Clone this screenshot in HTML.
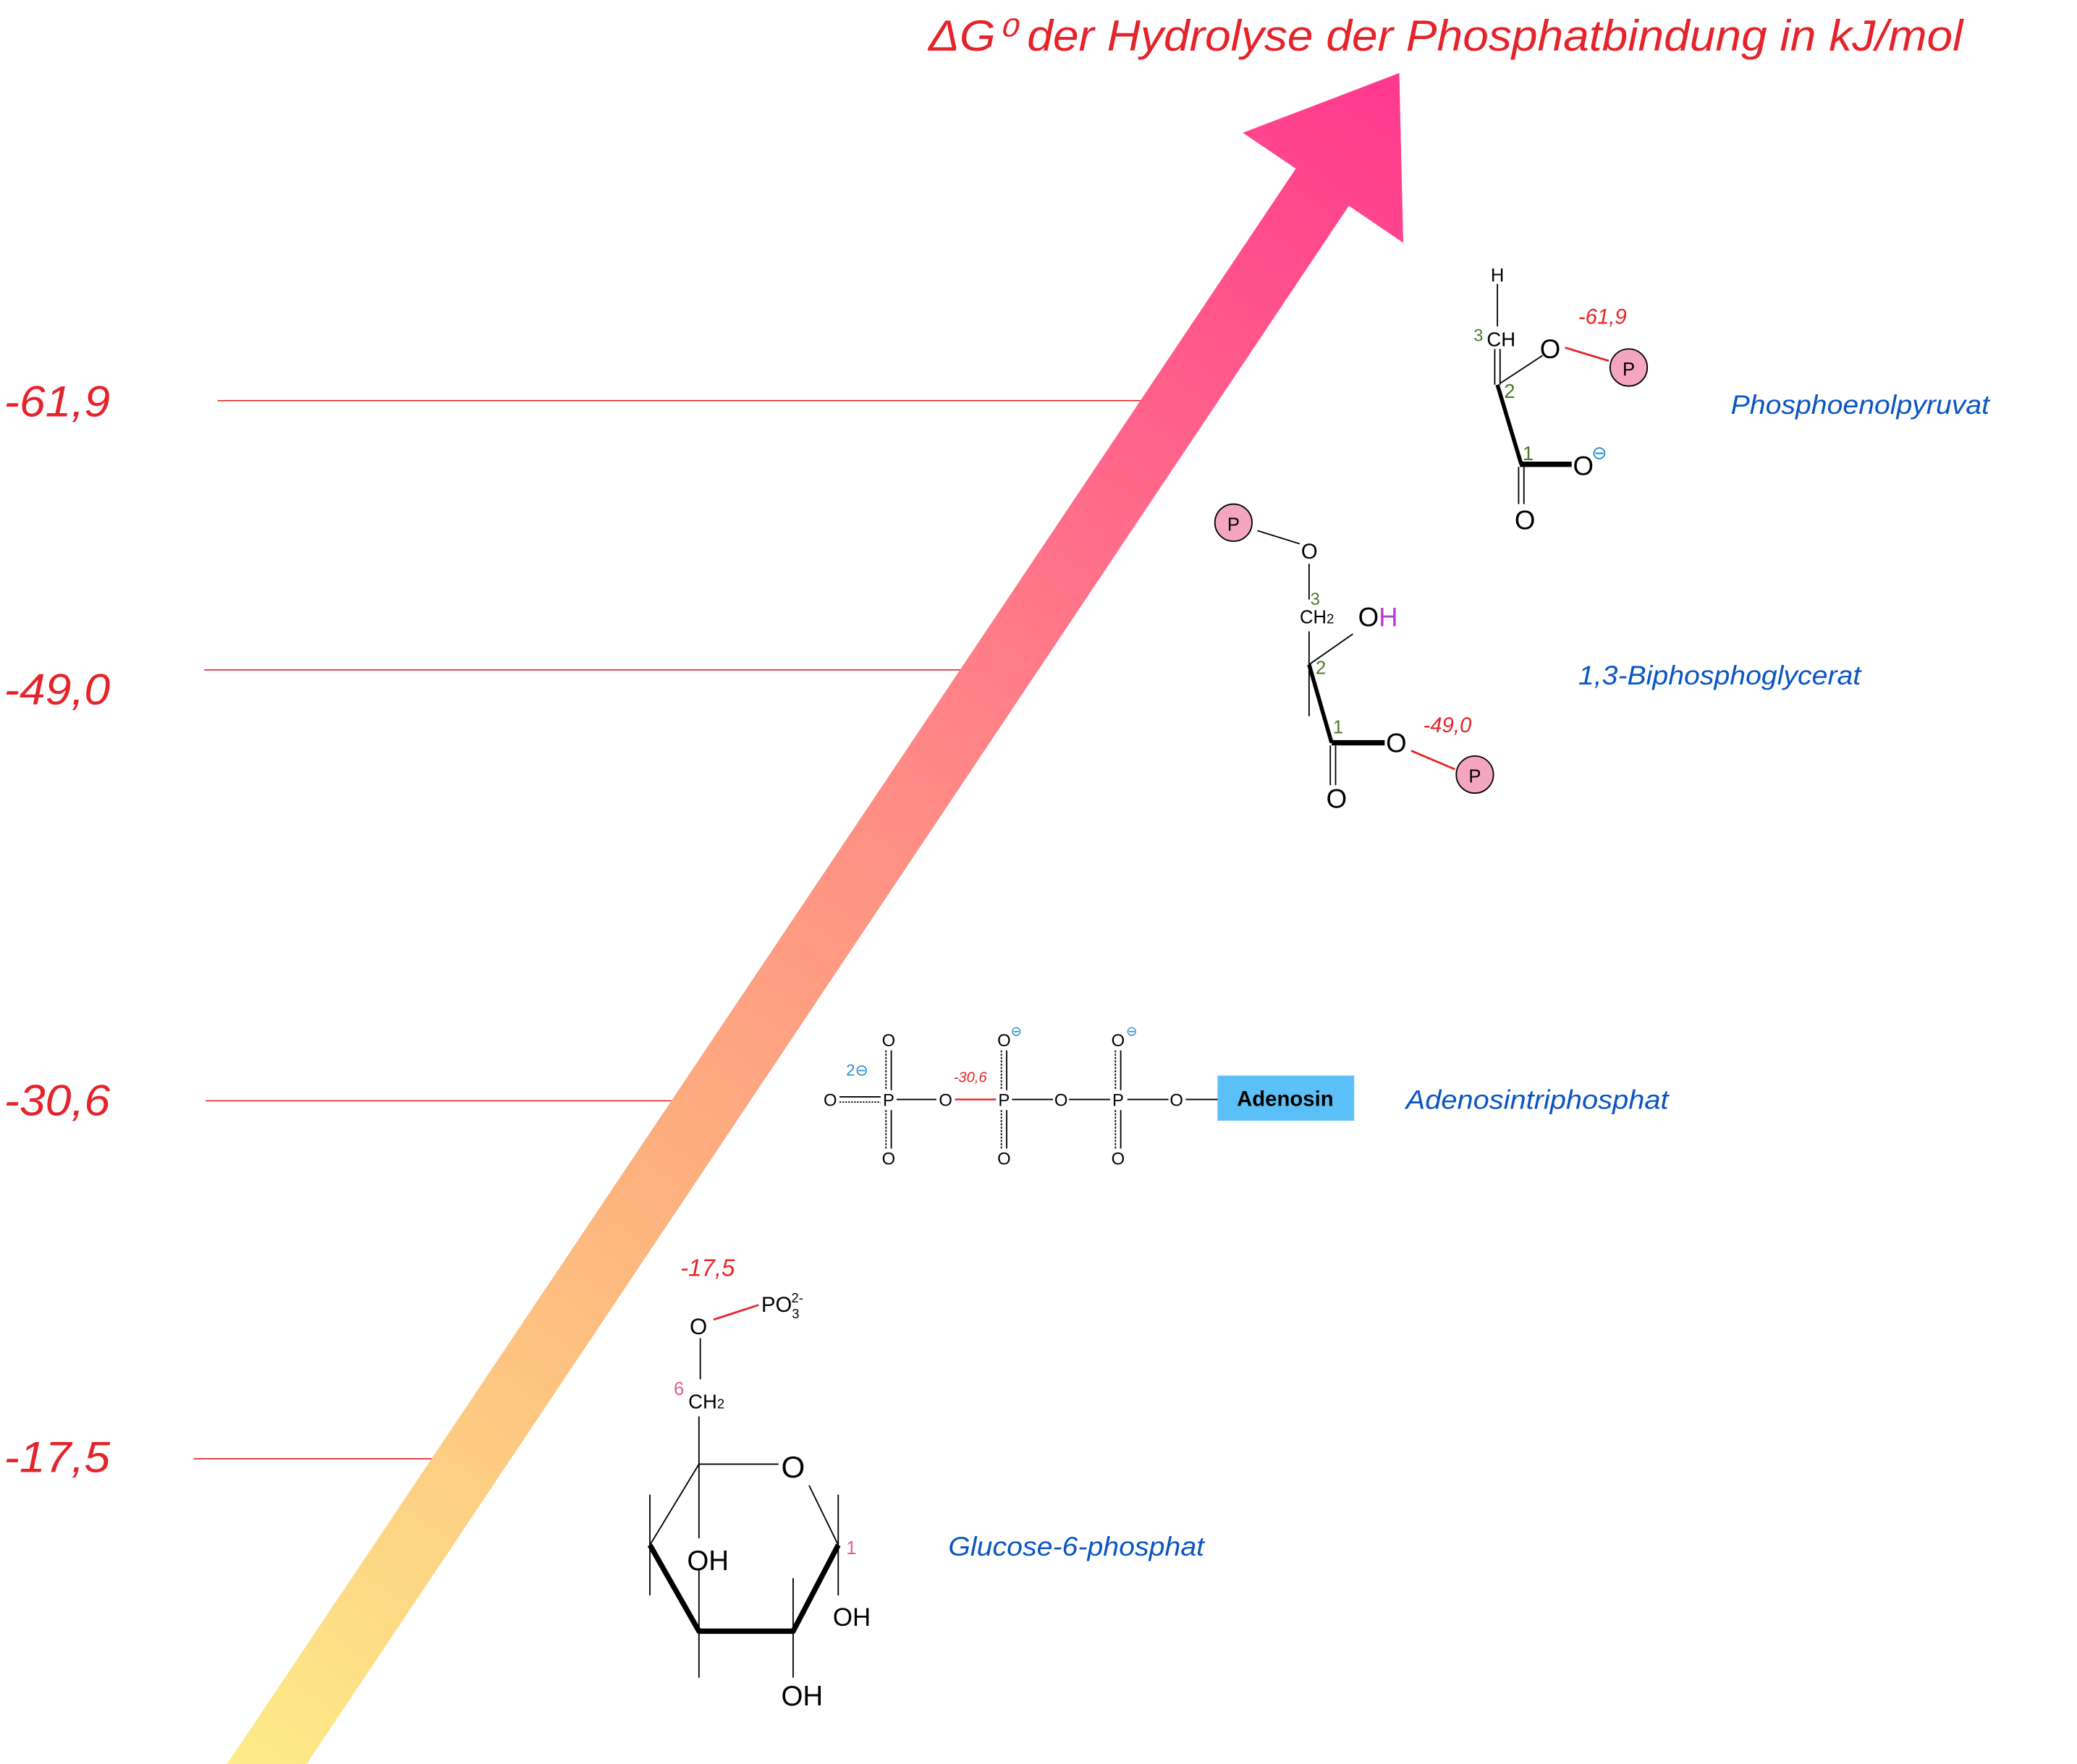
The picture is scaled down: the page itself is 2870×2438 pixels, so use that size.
<!DOCTYPE html>
<html><head><meta charset="utf-8"><style>
html,body{margin:0;padding:0;background:#fff;}
svg{display:block;}
text{font-family:"Liberation Sans",sans-serif;}
.it{font-style:italic;}
.red{fill:#e5232a;}
.blue{fill:#0a55c4;}
.grn{fill:#4e7a2a;}
.pink{fill:#e0608a;}
.cb{fill:#2a8ad0;}
</style></head><body>
<svg width="2870" height="2438" viewBox="0 0 1566 1330" xmlns="http://www.w3.org/2000/svg">
<defs>
<linearGradient id="g" gradientUnits="userSpaceOnUse" x1="170" y1="1330" x2="1058" y2="60">
<stop offset="0" stop-color="#fdec88"/>
<stop offset="0.35" stop-color="#fdb27e"/>
<stop offset="0.62" stop-color="#ff8487"/>
<stop offset="1" stop-color="#ff388e"/>
</linearGradient>
</defs>
<rect width="1566" height="1330" fill="#fff"/>
<text x="700" y="38" class="it red" font-size="33" textLength="780" lengthAdjust="spacingAndGlyphs">ΔG⁰ der Hydrolyse der Phosphatbindung in kJ/mol</text>
<g stroke="#e5232a" stroke-width="0.9">
<line x1="164" y1="302" x2="870" y2="302"/>
<line x1="154" y1="505" x2="730" y2="505"/>
<line x1="155" y1="830" x2="510" y2="830"/>
<line x1="146" y1="1100" x2="330" y2="1100"/>
</g>
<polygon fill="url(#g)" points="170,1332 977,127 937,100 1055,55 1058,183 1017,155 230,1332"/>
<g class="it red" font-size="33">
<text x="3" y="314" textLength="80" lengthAdjust="spacingAndGlyphs">-61,9</text>
<text x="3" y="531" textLength="80" lengthAdjust="spacingAndGlyphs">-49,0</text>
<text x="3" y="841" textLength="80" lengthAdjust="spacingAndGlyphs">-30,6</text>
<text x="3" y="1110" textLength="80" lengthAdjust="spacingAndGlyphs">-17,5</text>
</g>
<!-- PEP -->
<g stroke="#000" fill="none" stroke-width="1">
<line x1="1129" y1="214" x2="1129" y2="246"/>
<line x1="1127" y1="263" x2="1127" y2="290"/>
<line x1="1131" y1="263" x2="1131" y2="290"/>
<line x1="1131" y1="289" x2="1163" y2="268"/>
<line x1="1129" y1="290" x2="1147" y2="350" stroke-width="3"/>
<line x1="1146" y1="350" x2="1185" y2="350" stroke-width="4"/>
<line x1="1145" y1="352" x2="1145" y2="380"/>
<line x1="1149" y1="352" x2="1149" y2="380"/>
</g>
<line x1="1180" y1="262" x2="1213" y2="272" stroke="#e5232a" stroke-width="1.5"/>
<circle cx="1228" cy="277" r="14" fill="#f4a6c0" stroke="#000" stroke-width="1"/>
<text x="1228" y="283" font-size="14" text-anchor="middle">P</text>
<text x="1124" y="212" font-size="14">H</text>
<text x="1111" y="257" font-size="13" class="grn">3</text>
<text x="1121" y="261" font-size="15">CH</text>
<text x="1134" y="300" font-size="15" class="grn">2</text>
<text x="1148" y="347" font-size="15" class="grn">1</text>
<text x="1161" y="270" font-size="20">O</text>
<text x="1186" y="358" font-size="20">O</text>
<text x="1200" y="346" font-size="14" class="cb">⊖</text>
<text x="1142" y="399" font-size="20">O</text>
<text x="1190" y="244" font-size="16" class="it red">-61,9</text>
<text x="1305" y="312" font-size="20" class="it blue" textLength="195" lengthAdjust="spacingAndGlyphs">Phosphoenolpyruvat</text>
<!-- BPG -->
<g stroke="#000" fill="none" stroke-width="1">
<line x1="948" y1="400" x2="980" y2="410"/>
<line x1="987" y1="425" x2="987" y2="452"/>
<line x1="987" y1="476" x2="987" y2="540"/>
<line x1="987" y1="501" x2="1020" y2="478"/>
<line x1="987" y1="501" x2="1004" y2="560" stroke-width="3"/>
<line x1="1004" y1="560" x2="1044" y2="560" stroke-width="4"/>
<line x1="1003" y1="562" x2="1003" y2="592"/>
<line x1="1007" y1="562" x2="1007" y2="592"/>
</g>
<line x1="1064" y1="566" x2="1097" y2="580" stroke="#e5232a" stroke-width="1.5"/>
<circle cx="930" cy="394" r="14" fill="#f4a6c0" stroke="#000" stroke-width="1"/>
<text x="930" y="400" font-size="14" text-anchor="middle">P</text>
<circle cx="1112" cy="584" r="14" fill="#f4a6c0" stroke="#000" stroke-width="1"/>
<text x="1112" y="590" font-size="14" text-anchor="middle">P</text>
<text x="981" y="421" font-size="16">O</text>
<text x="988" y="456" font-size="13" class="grn">3</text>
<text x="980" y="470" font-size="14">CH<tspan font-size="10">2</tspan></text>
<text x="1024" y="472" font-size="20">O<tspan fill="#b83ae0">H</tspan></text>
<text x="992" y="508" font-size="14" class="grn">2</text>
<text x="1005" y="553" font-size="14" class="grn">1</text>
<text x="1045" y="567" font-size="20">O</text>
<text x="1000" y="609" font-size="20">O</text>
<text x="1073" y="552" font-size="16" class="it red">-49,0</text>
<text x="1190" y="516" font-size="20" class="it blue" textLength="213" lengthAdjust="spacingAndGlyphs">1,3-Biphosphoglycerat</text>
<!-- ATP -->
<g stroke="#000" fill="none" stroke-width="1">
<line x1="633" y1="827" x2="664" y2="827"/>
<line x1="633" y1="831" x2="664" y2="831" stroke-dasharray="1.2,1"/>
<line x1="676" y1="829" x2="706" y2="829"/>
<line x1="763" y1="829" x2="794" y2="829"/>
<line x1="806" y1="829" x2="837" y2="829"/>
<line x1="850" y1="829" x2="881" y2="829"/>
<line x1="894" y1="829" x2="918" y2="829"/>
</g>
<line x1="720" y1="829" x2="751" y2="829" stroke="#e5232a" stroke-width="1.3"/>
<g stroke="#000" fill="none" stroke-width="1">
<line x1="672" y1="792" x2="672" y2="822"/><line x1="668" y1="792" x2="668" y2="822" stroke-dasharray="1.5,1"/>
<line x1="672" y1="837" x2="672" y2="866"/><line x1="668" y1="837" x2="668" y2="866" stroke-dasharray="1.5,1"/>
<line x1="759" y1="792" x2="759" y2="822"/><line x1="755" y1="792" x2="755" y2="822" stroke-dasharray="1.5,1"/>
<line x1="759" y1="837" x2="759" y2="866"/><line x1="755" y1="837" x2="755" y2="866" stroke-dasharray="1.5,1"/>
<line x1="845" y1="792" x2="845" y2="822"/><line x1="841" y1="792" x2="841" y2="822" stroke-dasharray="1.5,1"/>
<line x1="845" y1="837" x2="845" y2="866"/><line x1="841" y1="837" x2="841" y2="866" stroke-dasharray="1.5,1"/>
</g>
<g font-size="13" text-anchor="middle">
<text x="626" y="834">O</text><text x="670" y="834">P</text><text x="713" y="834">O</text>
<text x="757" y="834">P</text><text x="800" y="834">O</text><text x="843" y="834">P</text><text x="887" y="834">O</text>
<text x="670" y="789">O</text><text x="757" y="789">O</text><text x="843" y="789">O</text>
<text x="670" y="878">O</text><text x="757" y="878">O</text><text x="843" y="878">O</text>
</g>
<text x="762" y="781" font-size="10" class="cb">⊖</text>
<text x="849" y="781" font-size="10" class="cb">⊖</text>
<text x="638" y="811" font-size="12" class="cb">2⊖</text>
<text x="719" y="816" font-size="11" class="it red">-30,6</text>
<rect x="918" y="811" width="103" height="34" fill="#5bc0f8"/>
<text x="969" y="834" font-size="16" font-weight="bold" text-anchor="middle">Adenosin</text>
<text x="1060" y="836" font-size="20" class="it blue" textLength="198" lengthAdjust="spacingAndGlyphs">Adenosintriphosphat</text>
<!-- Glucose-6-phosphate -->
<g stroke="#000" fill="none" stroke-width="1">
<line x1="528" y1="1009" x2="528" y2="1040"/>
<line x1="527" y1="1068" x2="527" y2="1160"/>
<line x1="527" y1="1104" x2="587" y2="1104"/>
<line x1="610" y1="1120" x2="632" y2="1165"/>
<line x1="490" y1="1165" x2="527" y2="1104"/>
<line x1="490" y1="1127" x2="490" y2="1203"/>
<line x1="632" y1="1127" x2="632" y2="1203"/>
<line x1="527" y1="1183" x2="527" y2="1265"/>
<line x1="598" y1="1190" x2="598" y2="1265"/>
<polyline points="632,1165 598,1230 527,1230 490,1165" stroke-width="4" stroke-linejoin="round"/>
</g>
<line x1="538" y1="995" x2="572" y2="984" stroke="#e5232a" stroke-width="1.5"/>
<text x="513" y="962" font-size="18" class="it red">-17,5</text>
<text x="520" y="1006" font-size="17">O</text>
<text x="574" y="989" font-size="16">PO<tspan font-size="10" dy="5">3</tspan><tspan font-size="10" dx="-6" dy="-12">2-</tspan></text>
<text x="508" y="1052" font-size="14" class="pink">6</text>
<text x="519" y="1062" font-size="15">CH<tspan font-size="10">2</tspan></text>
<text x="589" y="1114" font-size="23">O</text>
<text x="638" y="1172" font-size="14" class="pink">1</text>
<text x="518" y="1184" font-size="21">OH</text>
<text x="628" y="1226" font-size="19">OH</text>
<text x="589" y="1286" font-size="21">OH</text>
<text x="715" y="1173" font-size="20" class="it blue" textLength="193" lengthAdjust="spacingAndGlyphs">Glucose-6-phosphat</text>
</svg>
</body></html>
